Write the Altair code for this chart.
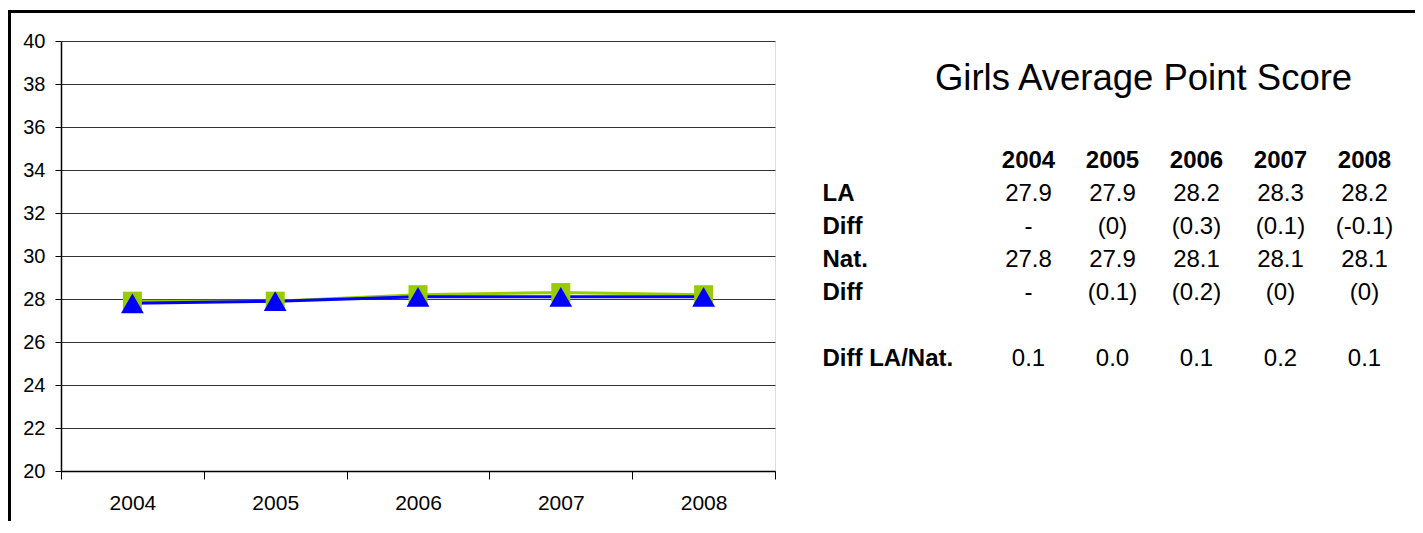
import altair as alt
import pandas as pd

# ---- data ----
years = ["2004", "2005", "2006", "2007", "2008"]
la = [27.9, 27.9, 28.2, 28.3, 28.2]
nat = [27.8, 27.9, 28.1, 28.1, 28.1]
la_diff = ["-", "(0)", "(0.3)", "(0.1)", "(-0.1)"]
nat_diff = ["-", "(0.1)", "(0.2)", "(0)", "(0)"]
gap = ["0.1", "0.0", "0.1", "0.2", "0.1"]
row_labels = ["LA", "Diff", "Nat.", "Diff", "", "Diff LA/Nat."]
y_ticks = [20, 22, 24, 26, 28, 30, 32, 34, 36, 38, 40]
title_text = "Girls Average Point Score"

FONT = "Liberation Sans"
GREEN = "#99CC00"
BLUE = "#0000FF"

# ---- tables built from arrays ----
series_df = pd.DataFrame(
    [{"series": "LA", "year": y, "value": v} for y, v in zip(years, la)]
    + [{"series": "Nat.", "year": y, "value": v} for y, v in zip(years, nat)]
)

table_rows = [
    [f"{v:.1f}" for v in la],
    la_diff,
    [f"{v:.1f}" for v in nat],
    nat_diff,
    None,
    gap,
]
header_df = pd.DataFrame([{"row": 0, "col": ci, "text": y} for ci, y in enumerate(years)])
cells = []
for ri, vals in enumerate(table_rows, start=1):
    if vals is None:
        continue
    for ci, t in enumerate(vals):
        cells.append({"row": ri, "col": ci, "text": t})
cells_df = pd.DataFrame(cells)
labels_df = pd.DataFrame(
    [{"row": i + 1, "text": t} for i, t in enumerate(row_labels) if t]
)

# ---- chart ----
x_scale = alt.Scale(type="band", domain=years, range=[0, 714], paddingInner=0, paddingOuter=0)
y_scale = alt.Scale(domain=[20, 40], nice=False, zero=False)
color_scale = alt.Scale(domain=["LA", "Nat."], range=[GREEN, BLUE])
shape_scale = alt.Scale(domain=["LA", "Nat."], range=["square", "triangle-up"])

x_axis = alt.Axis(title=None, labelAngle=0, tickBand="extent", tickSize=8,
                  labelPadding=13, labelFontSize=21, labelColor="black",
                  tickColor="black", domainColor="black", grid=False,
                  labelFont=FONT, domainWidth=1.5)
y_axis = alt.Axis(title=None, values=y_ticks, tickSize=6, labelPadding=10,
                  labelFontSize=20, labelColor="black", tickColor="black",
                  domainColor="black", gridColor="#333333", grid=True,
                  labelFont=FONT, domainWidth=1.5)

base = alt.Chart(series_df)

lines = base.mark_line(strokeWidth=3).encode(
    x=alt.X("year:O", scale=x_scale, axis=x_axis),
    y=alt.Y("value:Q", scale=y_scale, axis=y_axis),
    color=alt.Color("series:N", scale=color_scale, legend=None),
    order=alt.Order("series:N"),
)

points = base.mark_point(filled=True, opacity=1).encode(
    x=alt.X("year:O", scale=x_scale, axis=x_axis),
    y=alt.Y("value:Q", scale=y_scale, axis=y_axis),
    color=alt.Color("series:N", scale=color_scale, legend=None),
    shape=alt.Shape("series:N", scale=shape_scale, legend=None),
    size=alt.Size("series:N", scale=alt.Scale(domain=["LA", "Nat."], range=[361, 520]), legend=None),
)

plot = alt.layer(lines, points)

row_scale = alt.Scale(domain=[0, 6], range=[127, 325])
col_scale = alt.Scale(domain=[0, 4], range=[967.5, 1303.5])

header_layer = alt.Chart(header_df).mark_text(
    font=FONT, fontSize=24, fontWeight="bold", align="center", baseline="alphabetic", color="black"
).encode(
    x=alt.X("col:Q", scale=col_scale, axis=None),
    y=alt.Y("row:Q", scale=row_scale, axis=None),
    text="text:N",
)

values_layer = alt.Chart(cells_df).mark_text(
    font=FONT, fontSize=24, align="center", baseline="alphabetic", color="black"
).encode(
    x=alt.X("col:Q", scale=col_scale, axis=None),
    y=alt.Y("row:Q", scale=row_scale, axis=None),
    text="text:N",
)

labels_layer = alt.Chart(labels_df).mark_text(
    font=FONT, fontSize=24, fontWeight="bold", align="left", baseline="alphabetic", color="black"
).encode(
    x=alt.value(761.5),
    y=alt.Y("row:Q", scale=row_scale, axis=None),
    text="text:N",
)

title_layer = alt.Chart(pd.DataFrame({"t": [title_text]})).mark_text(
    font=FONT, fontSize=36.5, align="center", baseline="alphabetic", color="black"
).encode(
    x=alt.value(1082.5),
    y=alt.value(49),
    text="t:N",
)

frame_df = pd.DataFrame({"k": [0]})
frame_left = alt.Chart(frame_df).mark_rule(color="black", strokeWidth=3).encode(
    x=alt.value(-51.5), y=alt.value(-31), y2=alt.value(500)
)
frame_top = alt.Chart(frame_df).mark_rule(color="black", strokeWidth=3).encode(
    x=alt.value(-53), x2=alt.value(1400), y=alt.value(-29.5)
)

table = alt.layer(header_layer, values_layer, labels_layer, title_layer, frame_left, frame_top)

chart = (
    alt.layer(plot, table)
    .resolve_scale(x="independent", y="independent", color="independent")
    .properties(
        width=714,
        height=430,
        autosize=alt.AutoSizeParams(type="none"),
        padding={"left": 53, "top": 33, "right": 640, "bottom": 50},
        background="white",
    )
    .configure_view(stroke="#8a8a8a", strokeWidth=2)
    .configure(font=FONT)
)

chart.save("out.html", embed_options={"renderer": "svg", "actions": False})
